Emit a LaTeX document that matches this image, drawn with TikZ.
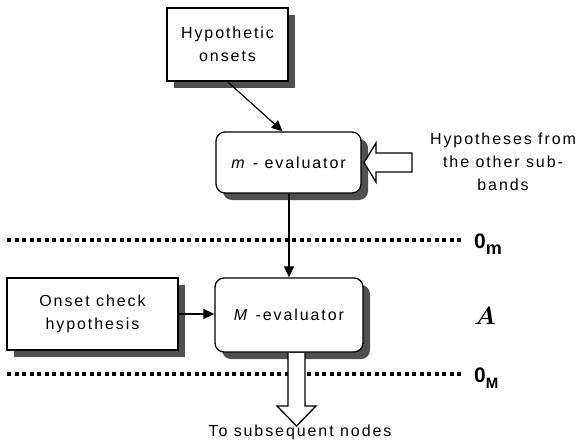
\documentclass[tikz,border=0pt]{standalone}
\usepackage{fontspec}
\setmainfont[LetterSpace=12]{Liberation Sans}
\newfontfamily\labelfont{Liberation Sans}
\usetikzlibrary{shadows,arrows.meta,calc}
\definecolor{shadowgray}{RGB}{80,80,80}
\begin{document}
\begin{tikzpicture}[x=1pt,y=-1pt,
  box/.style={draw, line width=1.3pt, fill=white, inner sep=0pt, align=center,
    font=\fontsize{16}{23}\selectfont,
    general shadow={fill=shadowgray, draw=none, shadow xshift=7pt, shadow yshift=-7pt}},
  rbox/.style={box, rounded corners=9pt},
  arr/.style={line width=1.2pt, -{Triangle[length=11pt,width=10pt]}},
  dotline/.style={line width=4pt, dash pattern=on 4pt off 3.5pt},
  hollow/.style={draw, line width=1.3pt, fill=white, line join=miter},
  txt/.style={align=center, font=\fontsize{16}{23}\selectfont, inner sep=0pt}]
\useasboundingbox (0,0) rectangle (578,444);

% boxes
\node[box, minimum width=121pt, minimum height=73pt] (hyp) at (227.5,44.5) {Hypothetic\\onsets};
\node[rbox, minimum width=145pt, minimum height=61pt] (meval) at (288.5,162.5) {\textit{m} - evaluator};
\node[box, minimum width=171pt, minimum height=72pt] (onset) at (92.5,314) {Onset check\\hypothesis};
\node[rbox, minimum width=148pt, minimum height=74pt] (Meval) at (289,315) {\textit{M} -evaluator};

% side text
\node[txt] (hypo) at (503,162) {Hypotheses from\\the other sub-\\bands};
\node[font=\fontsize{26}{26}\selectfont\boldmath, inner sep=0pt] (A) at (485,316) {$A$};
\node[txt] (sub) at (300,432) {To subsequent nodes};

% dotted levels
\coordinate (ml) at (7,240);
\coordinate (mr) at (462,240);
\coordinate (Ml) at (7,374);
\coordinate (Mr) at (462,374);
\draw[dotline] (ml) -- (mr);
\draw[dotline] (Ml) -- (Mr);
\node[anchor=base west, inner sep=0pt, font=\labelfont\bfseries\fontsize{21}{21}\selectfont] (om) at (474,248) {0\raisebox{-6pt}{\fontsize{18}{18}\selectfont m}};
\node[anchor=base west, inner sep=0pt, font=\labelfont\bfseries\fontsize{21}{21}\selectfont] (oM) at (474,382) {0\raisebox{-6pt}{\fontsize{15}{15}\selectfont M}};

% connectors
\coordinate (mtop) at ($(meval.north west)!0.46!(meval.north east)$);
\draw[arr] (hyp.south) -- (mtop);
\draw[arr] (meval.south -| Meval.north) -- (Meval.north);
\draw[arr] (onset.east) -- (onset.east -| Meval.west);

% hollow arrow from right
\draw[hollow] (412,153) -- (376,153) -- (376,143) -- (364,162.5) -- (376,182) -- (376,172) -- (412,172) -- cycle;

% hollow arrow downwards
\fill[white] (288,353) -- (288,406) -- (277,406) -- (296.5,426) -- (316,406) -- (305,406) -- (305,353) -- cycle;
\draw[line width=1.3pt, line join=miter] (288,353) -- (288,406) -- (277,406) -- (296.5,426) -- (316,406) -- (305,406) -- (305,353);
\end{tikzpicture}
\end{document}
